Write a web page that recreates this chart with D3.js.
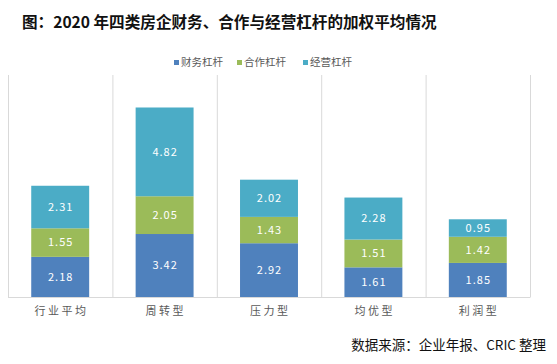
<!DOCTYPE html>
<html>
<head>
<meta charset="utf-8">
<script src="https://cdn.jsdelivr.net/npm/d3@7"></script>
<style>
  body { margin: 0; background: #fff; }
  svg { display: block; font-family: "Noto Sans CJK SC", "Microsoft YaHei", sans-serif; }
</style>
</head>
<body>
<svg id="chart" width="557" height="364"></svg>
<script>
  // data
  const categories = ['行业平均', '周转型', '压力型', '均优型', '利润型'];
  const seriesNames = ['财务杠杆', '合作杠杆', '经营杠杆'];
  const financial = [2.18, 3.42, 2.92, 1.61, 1.85];
  const cooperation = [1.55, 2.05, 1.43, 1.51, 1.42];
  const operating = [2.31, 4.82, 2.02, 2.28, 0.95];
  const colors = ['#4F81BD', '#9BBB59', '#4BACC6'];

  const svg = d3.select('#chart');

  // title
  svg.append('text')
    .attr('x', 22).attr('y', 28)
    .attr('font-size', 15.6).attr('font-weight', 700)
    .attr('fill', '#111')
    .text('图：2020 年四类房企财务、合作与经营杠杆的加权平均情况');

  const x = d3.scaleBand().domain(categories).range([8, 530]).paddingInner(0).paddingOuter(0);
  const y = d3.scaleLinear().domain([0, 12]).range([297, 76]);
  const barW = x.bandwidth() * 0.555;

  // category separators
  const g = svg.append('g');
  const edges = categories.map(c => x(c)).concat([x.range()[1]]);
  g.selectAll('line.sep').data(edges).join('line')
    .attr('x1', d => d + 0.5).attr('x2', d => d + 0.5)
    .attr('y1', 75).attr('y2', y(0))
    .attr('stroke', '#d9d9d9').attr('stroke-width', 1);

  const rows = categories.map((c, i) => ({ cat: c, s0: financial[i], s1: cooperation[i], s2: operating[i] }));
  const stacked = d3.stack().keys(['s0', 's1', 's2'])(rows);

  stacked.forEach((layer, li) => {
    const lg = svg.append('g');
    lg.selectAll('rect').data(layer).join('rect')
      .attr('x', d => x(d.data.cat) + (x.bandwidth() - barW) / 2)
      .attr('y', d => y(d[1]))
      .attr('width', barW)
      .attr('height', d => y(d[0]) - y(d[1]))
      .attr('fill', colors[li]);
    lg.selectAll('text').data(layer).join('text')
      .attr('x', d => x(d.data.cat) + x.bandwidth() / 2 + 0.5)
      .attr('y', d => (y(d[0]) + y(d[1])) / 2)
      .attr('dy', '0.35em')
      .attr('text-anchor', 'middle')
      .attr('font-size', 11)
      .attr('letter-spacing', 1)
      .attr('fill', '#fff')
      .text(d => (d[1] - d[0]).toFixed(2));
  });

  // baseline
  svg.append('line')
    .attr('x1', 8).attr('x2', 530.5)
    .attr('y1', y(0) + 0.5).attr('y2', y(0) + 0.5)
    .attr('stroke', '#d9d9d9');

  // category labels
  const xAxis = d3.axisBottom(x).tickSize(0).tickPadding(10);
  const ax = svg.append('g').attr('transform', `translate(0,${y(0)})`).call(xAxis);
  ax.select('.domain').remove();
  ax.selectAll('text')
    .attr('font-size', 11).attr('letter-spacing', 2.5)
    .attr('dx', 1.25)
    .attr('fill', '#595959')
    .attr('font-family', '"Noto Sans CJK SC", sans-serif');

  // legend
  const legendX = [174, 237, 303];
  const lgd = svg.append('g');
  seriesNames.forEach((n, i) => {
    lgd.append('rect')
      .attr('x', legendX[i]).attr('y', 60)
      .attr('width', 5).attr('height', 5)
      .attr('fill', colors[i]);
    lgd.append('text')
      .attr('x', legendX[i] + 7).attr('y', 62.5)
      .attr('dy', '0.35em')
      .attr('font-size', 10.5)
      .attr('fill', '#595959')
      .text(n);
  });

  // source
  svg.append('text')
    .attr('x', 546).attr('y', 345)
    .attr('dy', '0.35em')
    .attr('text-anchor', 'end')
    .attr('font-size', 13.5)
    .attr('fill', '#111')
    .text('数据来源：企业年报、CRIC 整理');
</script>
</body>
</html>
